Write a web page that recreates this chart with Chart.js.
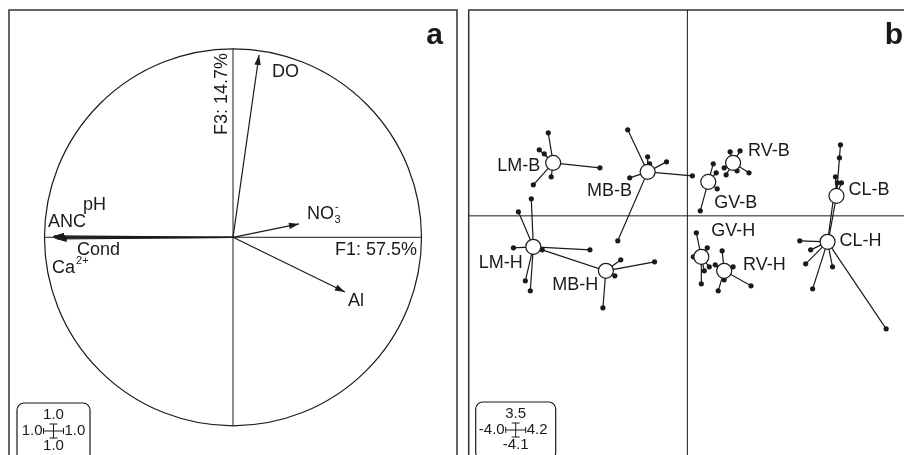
<!DOCTYPE html>
<html>
<head>
<meta charset="utf-8">
<script src="https://cdn.jsdelivr.net/npm/chart.js@4.4.0/dist/chart.umd.min.js"></script>
<style>
  html, body { margin: 0; padding: 0; background: #fff; overflow: hidden; }
  #wrap { position: relative; width: 904px; height: 455px; overflow: hidden; }
  canvas { position: absolute; top: 0; }
  #pa { left: 0; width: 470px; height: 470px; }
  #pb { left: 460px; width: 470px; height: 470px; }
</style>
</head>
<body>
<div id="wrap">
  <canvas id="pa" width="470" height="470"></canvas>
  <canvas id="pb" width="470" height="470"></canvas>
</div>
<script>
// ---- panel a : correlation circle (F1 x F3) ----
const varNames = ['pH', 'ANC', 'Cond', 'Ca2+', 'DO', 'NO3-', 'Al'];
const varF1 = [-0.950, -0.955, -0.935, -0.945, 0.138, 0.350, 0.594];
const varF3 = [0.007, 0.002, -0.009, -0.004, 0.967, 0.071, -0.290];
const axisTitles = ['F1: 57.5%', 'F3: 14.7%'];
const boxA = ['1.0', '1.0', '1.0', '1.0']; // top, left, right, bottom

// ---- panel b : sites, star plot ----
const groups = ['LM-B', 'MB-B', 'LM-H', 'MB-H', 'RV-B', 'GV-B', 'GV-H', 'RV-H', 'CL-B', 'CL-H'];
const centreX = [-2.455, -0.727, -2.818, -1.491, 0.836, 0.382, 0.255, 0.673, 2.727, 2.564];
const centreY = [0.901, 0.748, -0.527, -0.935, 0.901, 0.578, -0.697, -0.935, 0.340, -0.442];
const memberX = [
  [-2.545, -2.709, -2.618, -2.491, -2.818, -1.600],
  [-1.091, -0.727, -0.691, -0.382, -1.055, 0.091, -1.273],
  [-2.855, -3.091, -3.182, -1.782, -2.964, -2.873],
  [-1.218, -0.600, -1.327, -1.545, -2.655],
  [0.782, 0.964, 0.673, 0.709, 0.909, 1.127],
  [0.473, 0.527, 0.545, 0.236],
  [0.164, 0.364, 0.109, 0.400, 0.309, 0.255],
  [0.636, 0.836, 0.509, 0.673, 0.564, 1.164],
  [2.800, 2.782, 2.709, 2.745, 2.818, 2.582],
  [2.055, 2.255, 2.164, 2.655, 2.291, 3.636, 2.673]
];
const memberY = [
  [1.411, 1.122, 1.054, 0.663, 0.527, 0.816],
  [1.462, 1.003, 0.884, 0.918, 0.646, 0.680, -0.425],
  [0.289, 0.068, -0.544, -0.578, -1.105, -1.275],
  [-0.748, -0.782, -1.020, -1.564, -0.578],
  [1.088, 1.105, 0.816, 0.697, 0.765, 0.731],
  [0.884, 0.731, 0.459, 0.085],
  [-0.289, -0.544, -0.697, -0.867, -0.935, -1.156],
  [-0.595, -0.867, -0.833, -1.088, -1.275, -1.190],
  [1.207, 0.986, 0.663, 0.561, 0.561, -0.408],
  [-0.425, -0.578, -0.816, -0.867, -1.241, -1.921, 0.306]
];
const boxB = ['3.5', '-4.0', '4.2', '-4.1'];

// label placement (layout only, in axis units)
const labelPosA = [
  { x: -0.796, y: 0.171 }, { x: -0.981, y: 0.081 }, { x: -0.828, y: -0.067 },
  { x: -0.960, y: -0.163 }, { x: 0.207, y: 0.877 }, { x: 0.393, y: 0.122 }, { x: 0.610, y: -0.338 }
];
const labelPosB = [
  { x: -2.691, y: 0.850, align: 'right' }, { x: -1.836, y: 0.425 }, { x: -3.818, y: -0.799 },
  { x: -2.473, y: -1.173 }, { x: 1.109, y: 1.105 }, { x: 0.491, y: 0.221 }, { x: 0.436, y: -0.255 },
  { x: 1.018, y: -0.833 }, { x: 2.945, y: 0.442 }, { x: 2.782, y: -0.425 }
];

const FONT = '"Liberation Sans", Arial, Helvetica, sans-serif';
const INK = '#1a1a1a';

function arrowHead(ctx, x0, y0, x1, y1) {
  const a = Math.atan2(y1 - y0, x1 - x0);
  const L = 10, W = 3.2;
  ctx.beginPath();
  ctx.moveTo(x1, y1);
  ctx.lineTo(x1 - L * Math.cos(a) + W * Math.sin(a), y1 - L * Math.sin(a) - W * Math.cos(a));
  ctx.lineTo(x1 - L * Math.cos(a) - W * Math.sin(a), y1 - L * Math.sin(a) + W * Math.cos(a));
  ctx.closePath();
  ctx.fill();
}

// text like "NO3-" or "Ca2+" with sub / superscript parts
function richText(ctx, name, px, py, size) {
  let main = name, sub = '', sup = '';
  if (name === 'NO3-') { main = 'NO'; sub = '3'; sup = '-'; }
  if (name === 'Ca2+') { main = 'Ca'; sup = '2+'; }
  ctx.font = size + 'px ' + FONT;
  ctx.textAlign = 'left';
  ctx.textBaseline = 'middle';
  ctx.fillText(main, px, py);
  const w = ctx.measureText(main).width;
  ctx.font = Math.round(size * 0.62) + 'px ' + FONT;
  if (sub) ctx.fillText(sub, px + w + 0.5, py + 6);
  if (sup) ctx.fillText(sup, px + w + 1, py - 7);
}

function frame(chart) {
  const { ctx, chartArea: c } = chart;
  ctx.save();
  ctx.strokeStyle = '#333';
  ctx.lineWidth = 1.5;
  ctx.strokeRect(c.left, c.top, c.right - c.left, c.bottom - c.top);
  ctx.font = 'bold 30px ' + FONT;
  ctx.fillStyle = INK;
  ctx.textAlign = 'right';
  ctx.textBaseline = 'middle';
  ctx.fillText(chart.canvas.id === 'pa' ? 'a' : 'b', c.right - 14, c.top + 26);
  ctx.restore();
}

function scaleBox(ctx, left, top, w, vals) {
  const cx = left + w / 2, cy = top + 28;
  ctx.save();
  ctx.strokeStyle = INK;
  ctx.lineWidth = 1.2;
  ctx.beginPath();
  ctx.roundRect(left, top, w, 58, 7);
  ctx.stroke();
  // little cross
  ctx.lineWidth = 1;
  ctx.beginPath();
  ctx.moveTo(cx - 10, cy); ctx.lineTo(cx + 10, cy);
  ctx.moveTo(cx - 10, cy - 3); ctx.lineTo(cx - 10, cy + 3);
  ctx.moveTo(cx + 10, cy - 3); ctx.lineTo(cx + 10, cy + 3);
  ctx.moveTo(cx, cy - 7); ctx.lineTo(cx, cy + 7);
  ctx.moveTo(cx - 4, cy - 7); ctx.lineTo(cx + 4, cy - 7);
  ctx.moveTo(cx - 4, cy + 7); ctx.lineTo(cx + 4, cy + 7);
  ctx.stroke();
  ctx.fillStyle = INK;
  ctx.font = '15px ' + FONT;
  ctx.textBaseline = 'middle';
  ctx.textAlign = 'center';
  ctx.fillText(vals[0], cx, cy - 16);
  ctx.fillText(vals[3], cx, cy + 15);
  ctx.textAlign = 'right';
  ctx.fillText(vals[1], cx - 11, cy);
  ctx.textAlign = 'left';
  ctx.fillText(vals[2], cx + 11, cy);
  ctx.restore();
}

const lineStyle = { showLine: true, pointRadius: 0, borderColor: INK, borderWidth: 1.2, fill: false, tension: 0 };
const baseOptions = (xmin, xmax, ymin, ymax, pad) => ({
  responsive: false,
  animation: false,
  events: [],
  layout: { padding: pad },
  plugins: { legend: { display: false }, tooltip: { enabled: false } },
  scales: {
    x: { type: 'linear', min: xmin, max: xmax, display: false },
    y: { type: 'linear', min: ymin, max: ymax, display: false }
  }
});

// ---------- chart a ----------
const dsA = [
  { ...lineStyle, borderWidth: 1, data: [{ x: -1, y: 0 }, { x: 1, y: 0 }] },
  { ...lineStyle, borderWidth: 1, data: [{ x: 0, y: -1 }, { x: 0, y: 1 }] }
];
varNames.forEach((n, i) => {
  dsA.push({ ...lineStyle, label: n, data: [{ x: 0, y: 0 }, { x: varF1[i], y: varF3[i] }] });
});

const plugA = {
  id: 'plugA',
  beforeDatasetsDraw(chart) { frame(chart); },
  afterDatasetsDraw(chart) {
    const { ctx, chartArea: c, scales: { x, y } } = chart;
    const x0 = x.getPixelForValue(0), y0 = y.getPixelForValue(0);
    ctx.save();
    ctx.strokeStyle = INK;
    ctx.fillStyle = INK;
    ctx.lineWidth = 1.2;
    ctx.beginPath();
    ctx.arc(x0, y0, x.getPixelForValue(1) - x0, 0, Math.PI * 2);
    ctx.stroke();
    varNames.forEach((n, i) => {
      arrowHead(ctx, x0, y0, x.getPixelForValue(varF1[i]), y.getPixelForValue(varF3[i]));
      richText(ctx, n, x.getPixelForValue(labelPosA[i].x), y.getPixelForValue(labelPosA[i].y), 18);
    });
    ctx.font = '18px ' + FONT;
    ctx.textAlign = 'right';
    ctx.textBaseline = 'middle';
    ctx.fillText(axisTitles[0], x.getPixelForValue(0.976), y.getPixelForValue(-0.067));
    ctx.save();
    ctx.translate(x.getPixelForValue(-0.058), y.getPixelForValue(0.760));
    ctx.rotate(-Math.PI / 2);
    ctx.textAlign = 'center';
    ctx.fillText(axisTitles[1], 0, 0);
    ctx.restore();
    scaleBox(ctx, c.left + 8, 403, 73, boxA);
    ctx.restore();
  }
};

new Chart(document.getElementById('pa'), {
  type: 'scatter',
  data: { datasets: dsA },
  options: baseOptions(-1.1883, 1.1883, -1.208, 1.2058, { left: 9, right: 13, top: 10, bottom: 5 }),
  plugins: [plugA]
});

// ---------- chart b ----------
const dsB = [
  { ...lineStyle, borderWidth: 1, order: 5, data: [{ x: -4.0, y: 0 }, { x: 4.2, y: 0 }] },
  { ...lineStyle, borderWidth: 1, order: 5, data: [{ x: 0, y: -4.1 }, { x: 0, y: 3.5 }] }
];
groups.forEach((g, i) => {
  const star = [];
  const dots = [];
  memberX[i].forEach((mx, j) => {
    star.push({ x: centreX[i], y: centreY[i] }, { x: mx, y: memberY[i][j] });
    dots.push({ x: mx, y: memberY[i][j] });
  });
  dsB.push({ ...lineStyle, label: g, order: 3, data: star });
  dsB.push({ label: g + ' sites', order: 2, data: dots, pointRadius: 2.6, pointBackgroundColor: INK, pointBorderWidth: 0 });
  dsB.push({ label: g + ' centre', order: 1, data: [{ x: centreX[i], y: centreY[i] }],
    pointRadius: 7.5, pointBackgroundColor: '#fff', pointBorderColor: INK, pointBorderWidth: 1.2 });
});

const plugB = {
  id: 'plugB',
  beforeDatasetsDraw(chart) { frame(chart); },
  afterDatasetsDraw(chart) {
    const { ctx, chartArea: c, scales: { x, y } } = chart;
    ctx.save();
    ctx.fillStyle = INK;
    ctx.font = '18px ' + FONT;
    ctx.textBaseline = 'middle';
    groups.forEach((g, i) => {
      const p = labelPosB[i];
      ctx.textAlign = p.align || 'left';
      ctx.fillText(g, x.getPixelForValue(p.x), y.getPixelForValue(p.y));
    });
    scaleBox(ctx, c.left + 7, 402, 80, boxB);
    ctx.restore();
  }
};

new Chart(document.getElementById('pb'), {
  type: 'scatter',
  data: { datasets: dsB },
  options: baseOptions(-4.0, 4.2, -4.1, 3.5, { left: 6, right: 13, top: 10, bottom: 13 }),
  plugins: [plugB]
});
</script>
</body>
</html>
